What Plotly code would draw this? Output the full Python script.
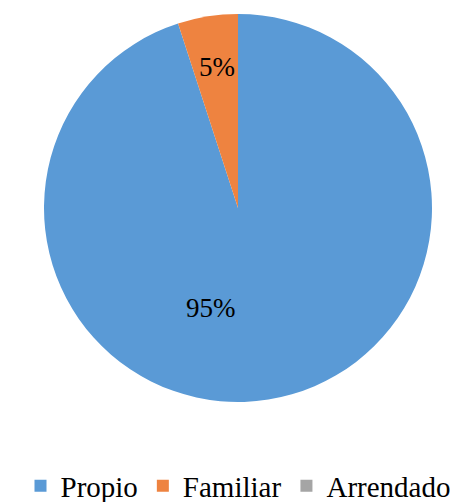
import plotly.graph_objects as go

labels = ["Propio", "Familiar", "Arrendado"]
values = [95, 5, 0]
colors = ["#5A9AD6", "#EE8340", "#A5A5A5"]

total = sum(values)
pct_text = [f"{round(v / total * 100)}%" for v in values]

SERIF = "Liberation Serif, Times New Roman, serif"

fig = go.Figure(
    go.Pie(
        labels=labels,
        values=values,
        marker=dict(colors=colors, line=dict(width=0)),
        sort=False,
        direction="clockwise",
        rotation=0,
        text=pct_text,
        textinfo="none",
        hoverinfo="label+percent",
        showlegend=True,
        domain=dict(x=[44 / 476, 432 / 476], y=[1 - 402 / 502, 1 - 14 / 502]),
    )
)

# percentage labels placed inside their slices
fig.add_annotation(x=211 / 476, y=1 - 308 / 502, xref="paper", yref="paper",
                   text=pct_text[0], showarrow=False,
                   font=dict(family=SERIF, size=27, color="black"))
fig.add_annotation(x=217 / 476, y=1 - 50 / 502, xref="paper", yref="paper",
                   text=pct_text[1], showarrow=False,
                   font=dict(family=SERIF, size=27, color="black"))

fig.update_layout(
    width=476,
    height=502,
    margin=dict(l=0, r=0, t=0, b=0, autoexpand=False),
    paper_bgcolor="white",
    plot_bgcolor="white",
    font=dict(family=SERIF, size=29, color="black"),
    legend=dict(
        orientation="h",
        x=0.5,
        xanchor="center",
        y=1 - 486 / 502,
        yanchor="middle",
        font=dict(family=SERIF, size=29, color="black"),
        itemwidth=30,
        tracegroupgap=0,
    ),
)

fig.write_html("out.html")
